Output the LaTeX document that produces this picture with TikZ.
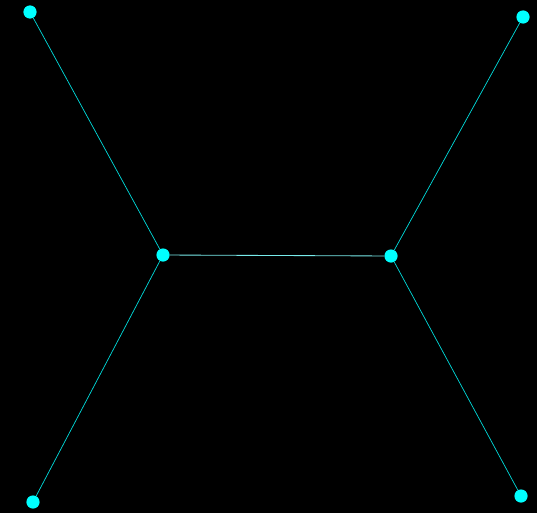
\documentclass[tikz,border=0pt]{standalone}
\usepackage{tikz}
\usetikzlibrary{positioning}
\definecolor{dotcolor}{RGB}{0, 255, 255}
\definecolor{edgecolor}{RGB}{0, 220, 220}
\definecolor{bridgecolor}{RGB}{120, 235, 235}
\tikzset{
dot/.style={
  circle,
  fill=dotcolor,
  inner sep=0pt,
  minimum size=3.3mm
},
edge/.style={
  draw=edgecolor,
  line width=0.5pt
},
bridge/.style={
  edge,
  draw=bridgecolor,
  line width=0.6pt
}
}
\begin{document}
\begin{tikzpicture}[x=0.025cm, y=-0.025cm]
      \fill[black] (0,0) rectangle (537,513);
      \useasboundingbox (0,0) rectangle (537,513);

      \node[dot] (hub1) at (163,255) {};
      \node[dot] (hub2) at (391,256) {};
      \node[dot] (leaf1) at (30,12) {};
      \node[dot] (leaf2) at (33,502) {};
      \node[dot] (leaf3) at (523,17) {};
      \node[dot] (leaf4) at (521,496) {};

      \draw[edge] (leaf1) -- (hub1);
      \draw[edge] (leaf2) -- (hub1);
      \draw[edge] (leaf3) -- (hub2);
      \draw[edge] (leaf4) -- (hub2);
      \draw[bridge] (hub1) -- (hub2);
    \end{tikzpicture}
\end{document}
